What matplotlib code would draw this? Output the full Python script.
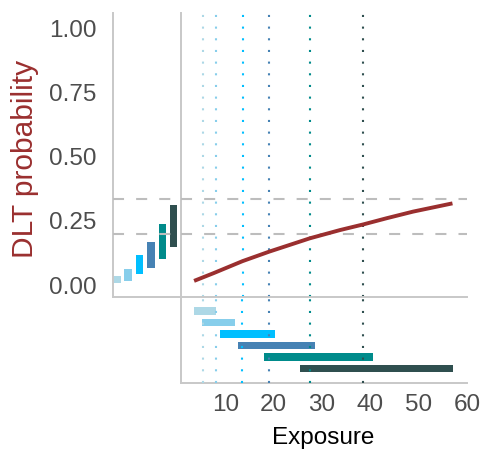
import numpy as np
import matplotlib
matplotlib.use("Agg")
import matplotlib.pyplot as plt

plt.rcParams['font.family'] = ['Liberation Sans', 'DejaVu Sans']

# data
doses = [1, 2, 3, 4, 5, 6]
dose_colors = ['#add8e6', '#87ceeb', '#00bfff', '#4682b4', '#008b8b', '#2f4f4f']
dlt_low = [0.007, 0.017, 0.042, 0.067, 0.101, 0.149]
dlt_high = [0.035, 0.062, 0.117, 0.168, 0.236, 0.312]
target_band = [0.2, 1 / 3]
exp_median = [5.3, 8.0, 13.5, 19.0, 27.4, 38.4]
exp_low = [3.4, 5.2, 8.9, 12.6, 18.0, 25.4]
exp_high = [8.0, 12.0, 20.2, 28.5, 40.6, 57.0]
curve_x = [3.5, 7.5, 13.5, 19.0, 27.4, 33.6, 38.4, 43.2, 48.7, 56.8]
curve_p = [0.016, 0.046, 0.093, 0.130, 0.182, 0.214, 0.236, 0.260, 0.286, 0.318]
prob_ticks = [0, 0.25, 0.5, 0.75, 1.0]
exp_ticks = [10, 20, 30, 40, 50, 60]

W, H = 482, 449
GRAY = '#c8c8c8'
TXT = '#4d4d4d'
RED = '#9a2f2f'
DOT = (0, (1, 4.6))


def box(x0, y0, x1, y1):
    return [x0 / W, 1 - y1 / H, (x1 - x0) / W, (y1 - y0) / H]


fig = plt.figure(figsize=(W / 100, H / 100), dpi=100)
ax_l = fig.add_axes(box(113, 13, 180, 297))
ax_m = fig.add_axes(box(181, 13, 467, 297))
ax_b = fig.add_axes(box(181, 297, 467, 383))

ylim = (-(297 - 285) / 256.7, (285 - 13) / 256.7)

for ax in (ax_l, ax_m, ax_b):
    for s in ('top', 'right'):
        ax.spines[s].set_visible(False)
    for s in ('left', 'bottom'):
        ax.spines[s].set_color(GRAY)
        ax.spines[s].set_linewidth(1.4)
    ax.tick_params(length=0)
    ax.set_facecolor('none')

# left panel: DLT probability intervals per dose
ax_l.bar(doses, np.array(dlt_high) - np.array(dlt_low), bottom=dlt_low,
         width=0.66, color=dose_colors, zorder=2)
ax_l.set_xlim(0.666, 6.55)
ax_l.set_ylim(*ylim)
ax_l.set_xticks([])
ax_l.set_yticks(prob_ticks)
ax_l.set_yticklabels([f'{t:.2f}' for t in prob_ticks])
ax_l.tick_params(axis='y', pad=12, labelsize=17.5, labelcolor=TXT)

# main panel: exposure-response curve
ax_m.plot(curve_x, curve_p, color=RED, lw=2.8, solid_capstyle='butt', zorder=4)
ax_m.set_xlim(0.8, 59.8)
ax_m.set_ylim(*ylim)
ax_m.set_xticks([])
ax_m.set_yticks([])

for t in target_band:
    for ax in (ax_l, ax_m):
        ax.axhline(t, color='#bdbdbd', lw=1.5, dashes=(5.3, 5.8), zorder=3)

for x, c in zip(exp_median, dose_colors):
    ax_m.axvline(x, color=c, lw=1.5, ls=DOT, zorder=1)
    ax_b.axvline(x, color=c, lw=1.5, ls=DOT, zorder=3)

# bottom panel: exposure ranges per dose
ax_b.barh(doses, np.array(exp_high) - np.array(exp_low), left=exp_low,
          height=0.66, color=dose_colors, zorder=2)
ax_b.set_xlim(0.8, 59.8)
ax_b.set_ylim(7.26, -0.217)
ax_b.set_yticks([])
ax_b.set_xticks(exp_ticks)
ax_b.tick_params(axis='x', pad=8, labelsize=17.5, labelcolor=TXT)

fig.text(25 / W, 1 - 159 / H, 'DLT probability', rotation=90, ha='center',
         va='center', fontsize=21.5, color=RED)
fig.text(323 / W, 1 - 438 / H, 'Exposure', ha='center', va='center',
         fontsize=17.5, color='black')

fig.savefig('out.png', dpi=100)
